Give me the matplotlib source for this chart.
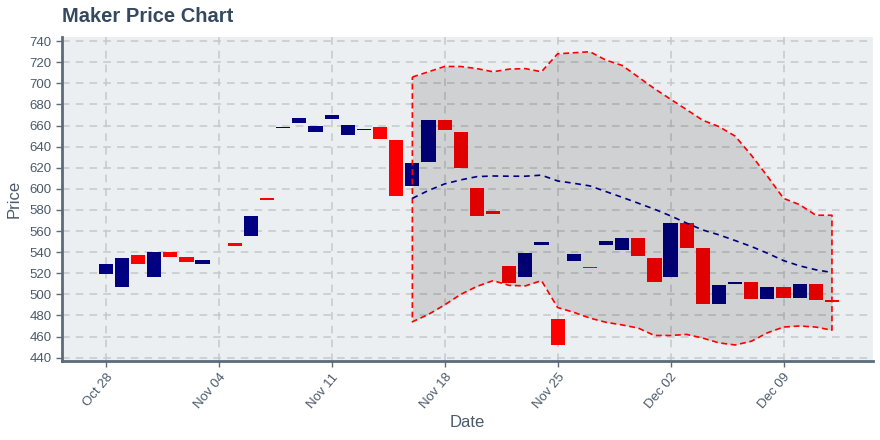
import datetime as dt
import matplotlib
matplotlib.use("Agg")
import matplotlib.pyplot as plt
import matplotlib.dates as mdates

plt.rcParams['font.family'] = ['Liberation Sans', 'DejaVu Sans']

# daily candles (no candle for Nov 04)
candle_days = (
    [dt.date(2019, 10, 28) + dt.timedelta(days=i) for i in range(7)]
    + [dt.date(2019, 11, 5) + dt.timedelta(days=i) for i in range(38)]
)
opens = [519, 507, 537.5, 516, 540, 535, 529,
         549, 555, 591,
         657.8, 662, 654, 666.5, 651, 655.5, 659, 646, 603, 625,
         665, 654, 601, 579, 527, 516, 547, 477, 532, 526,
         547, 542, 553, 534, 516, 568, 544, 491, 509.5, 512,
         496, 507, 497, 510, 495]
closes = [529, 534, 529, 540, 535, 531, 533,
          546, 574, 589,
          658.5, 667, 660, 670, 660.5, 656.5, 647, 593, 624.5, 665,
          656, 620, 574, 576, 511, 539, 550, 452, 538, 525,
          551, 553, 536, 512, 568, 544, 491, 509, 512, 496,
          507, 497, 510, 495, 492.5]

# bollinger bands
band_days = [dt.date(2019, 11, 16) + dt.timedelta(days=i) for i in range(27)]
upper = [706, 711, 716, 716, 714, 711, 713.5, 714, 711, 728, 729, 730, 722,
         717, 706, 695, 685, 675, 665, 659, 650, 632, 612, 591, 585, 575, 575]
middle = [591, 598.5, 604.7, 608.5, 611.6, 612.2, 612, 612, 613, 607.5, 605.3,
          602.8, 597.4, 592, 586.4, 580.7, 574.4, 567.5, 561, 556.4, 551,
          545.4, 539, 532, 527, 523.3, 520.7]
lower = [474, 481, 490, 500, 507.5, 513, 508.5, 508, 513, 487.5, 483, 477.5,
         473.5, 471, 468, 461, 461, 462, 458.5, 454, 452, 455.5, 463.5, 469,
         470, 469, 466]

title_col = '#34495e'
text_col = '#4a5a6b'
spine_col = '#5b6b7b'

fig = plt.figure(figsize=(8.8, 4.4), dpi=100)
ax = fig.add_axes([0.0705, 0.18, 0.9215, 0.736])
ax.set_facecolor('#eceff1')

# candles
heights = []
bottoms = []
colors = []
for o, c in zip(opens, closes):
    h = c - o
    if abs(h) < 1.2:
        h = 1.2 if h >= 0 else -1.2
    heights.append(h)
    bottoms.append(o)
    colors.append('#000080' if c >= o else '#ff0000')
ax.bar(candle_days, heights, bottom=bottoms, width=0.88, color=colors,
       zorder=2, linewidth=0)

# band fill and outline
ax.fill_between(band_days, lower, upper, color='black', alpha=0.12,
                linewidth=0, zorder=3)
poly_x = band_days + band_days[::-1] + [band_days[0]]
poly_y = upper + lower[::-1] + [upper[0]]
ax.plot(poly_x, poly_y, color='#ff0000', lw=1.2, dashes=(3.5, 2.2), zorder=4)
ax.plot(band_days, middle, color='#000080', lw=1.2, dashes=(3.5, 2.8), zorder=4)

ax.set_ylim(437, 744)
ax.set_yticks(range(440, 741, 20))
ax.set_xlim(dt.datetime(2019, 10, 25, 7), dt.datetime(2019, 12, 14, 13))
ticks = [dt.date(2019, 10, 28) + dt.timedelta(days=7 * i) for i in range(7)]
ax.set_xticks(ticks)
ax.xaxis.set_major_formatter(mdates.DateFormatter('%b %d'))

ax.grid(True, color='#c6c8ca', lw=1.1, linestyle=(0, (5, 4)), zorder=1)
ax.set_axisbelow(True)

for s in ['top', 'right']:
    ax.spines[s].set_visible(False)
for s in ['left', 'bottom']:
    ax.spines[s].set_color(spine_col)
    ax.spines[s].set_linewidth(2)

ax.tick_params(axis='both', colors=spine_col, labelcolor=text_col,
               labelsize=9.5, length=4, width=1)
plt.setp(ax.get_xticklabels(), rotation=50, ha='right', rotation_mode='anchor')

ax.set_xlabel('Date', fontsize=12, color=text_col, labelpad=3)
ax.set_ylabel('Price', fontsize=12, color=text_col, labelpad=6)
fig.text(0.0705, 0.962, 'Maker Price Chart', fontsize=14.5, fontweight='bold',
         color=title_col, ha='left', va='center')

fig.savefig('out.png', dpi=100)
